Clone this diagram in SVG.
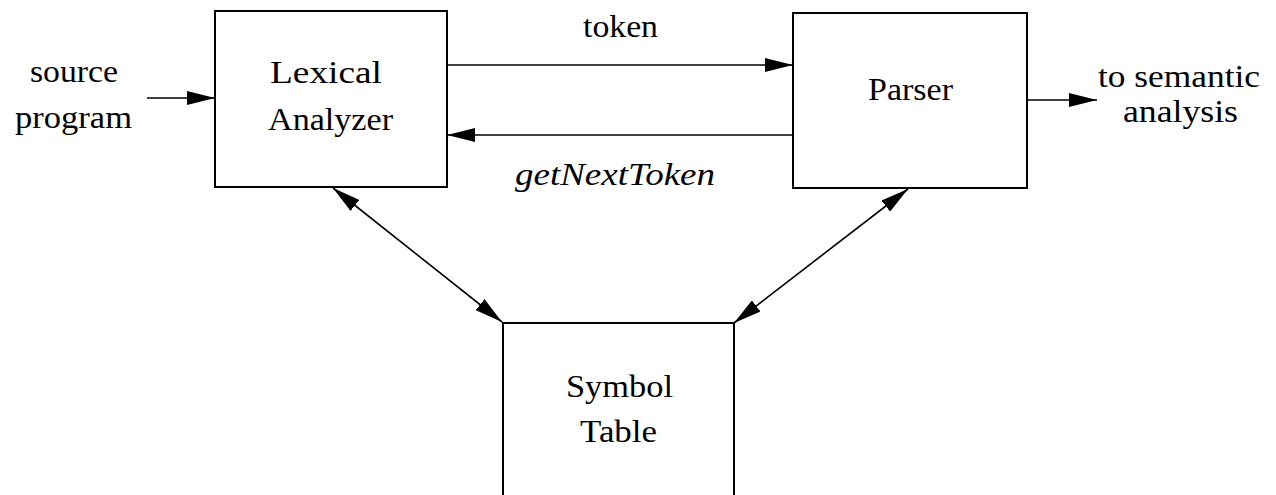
<svg xmlns="http://www.w3.org/2000/svg" width="1276" height="495" viewBox="0 0 1276 495">
<style>
.box{fill:none;stroke:#000;stroke-width:2}
.lbl{font-family:"Liberation Serif","Times New Roman",serif;font-size:32px;fill:#000}
.it{font-style:italic}
.conn{fill:none;stroke:#000;stroke-width:1.6}
</style>
<defs>
<marker id="ah" markerUnits="userSpaceOnUse" markerWidth="30" markerHeight="14" refX="28" refY="7" orient="auto-start-reverse" viewBox="0 0 30 14">
<path d="M0,0 L28,7 L0,14 z" fill="#000"/>
</marker>
</defs>
<rect width="1276" height="495" fill="#fff"/>
<g id="connectors">
<line class="conn" x1="147" y1="98" x2="215" y2="98" marker-end="url(#ah)"/>
<line class="conn" x1="447" y1="65" x2="793" y2="65" marker-end="url(#ah)"/>
<line class="conn" x1="793" y1="135" x2="447" y2="135" marker-end="url(#ah)"/>
<line class="conn" x1="1027" y1="100" x2="1097" y2="100" marker-end="url(#ah)"/>
<line class="conn" x1="333" y1="188" x2="502" y2="322" marker-start="url(#ah)" marker-end="url(#ah)"/>
<line class="conn" x1="908" y1="189" x2="734" y2="323" marker-start="url(#ah)" marker-end="url(#ah)"/>
</g>
<g id="source">
<text class="lbl" x="30" y="82" textLength="88" lengthAdjust="spacingAndGlyphs">source</text>
<text class="lbl" x="15" y="128" textLength="117" lengthAdjust="spacingAndGlyphs">program</text>
</g>
<g id="lexer">
<rect class="box" x="215" y="11" width="232" height="176"/>
<text class="lbl" x="270" y="83" textLength="112" lengthAdjust="spacingAndGlyphs">Lexical</text>
<text class="lbl" x="268" y="130" textLength="125" lengthAdjust="spacingAndGlyphs">Analyzer</text>
</g>
<g id="labels">
<text class="lbl" x="583" y="37" textLength="75" lengthAdjust="spacingAndGlyphs">token</text>
<text class="lbl it" x="515" y="185" textLength="200" lengthAdjust="spacingAndGlyphs">getNextToken</text>
</g>
<g id="parser">
<rect class="box" x="793" y="13" width="234" height="175"/>
<text class="lbl" x="868" y="100" textLength="85" lengthAdjust="spacingAndGlyphs">Parser</text>
</g>
<g id="semantic">
<text class="lbl" x="1098" y="87" textLength="162" lengthAdjust="spacingAndGlyphs">to semantic</text>
<text class="lbl" x="1123" y="122" textLength="115" lengthAdjust="spacingAndGlyphs">analysis</text>
</g>
<g id="symtab">
<path class="box" d="M503,497 V323 H734 V497"/>
<text class="lbl" x="566" y="397" textLength="107" lengthAdjust="spacingAndGlyphs">Symbol</text>
<text class="lbl" x="580" y="442" textLength="77" lengthAdjust="spacingAndGlyphs">Table</text>
</g>
</svg>
